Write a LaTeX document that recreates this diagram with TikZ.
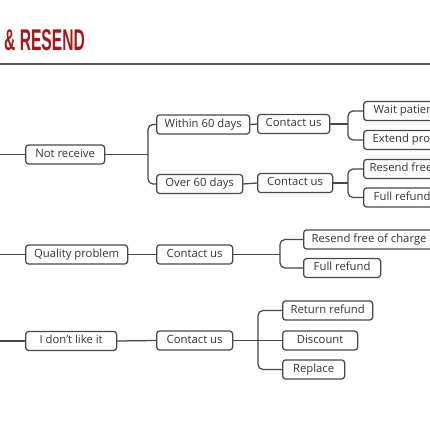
\documentclass[tikz,border=0pt]{standalone}
\usepackage{fontspec}
\setmainfont{Open Sans}
\newfontfamily\titlefont{Liberation Sans}
\definecolor{boxline}{HTML}{474747}
\definecolor{textc}{HTML}{333333}
\definecolor{titlered}{HTML}{A3191C}
\definecolor{rulegray}{HTML}{555555}
\begin{document}
\begin{tikzpicture}[x=1pt,y=-1pt,
  box/.style={draw=boxline, line width=1.25pt, rounded corners=3pt, minimum height=19pt,
    inner xsep=8pt, inner ysep=0pt, text height=8.2pt, text depth=2.4pt, text=textc,
    font=\fontsize{11.3}{13}\selectfont, anchor=west},
  conn/.style={draw=boxline, line width=1.25pt, rounded corners=5pt}]
\useasboundingbox (0,0) rectangle (430,430);
\clip (0,0) rectangle (430,430);

% title
\node[anchor=north west, inner sep=0pt, text=titlered] (title) at (4,29)
  {\titlefont\bfseries\fontsize{30}{30}\selectfont\scalebox{0.52}[1]{\& RESEND}};
\coordinate (r1) at (0,64);
\coordinate (r2) at (430,64);
\draw[line width=1.8pt, draw=rulegray] (r1) -- (r2);

% group 1
\node[box, minimum width=79pt] (nr) at (25,154.5) {Not receive};
\node[box, minimum width=91pt] (w60) at (156,124.5) {Within 60 days};
\node[box, minimum width=86pt] (o60) at (156,184) {Over 60 days};
\node[box, minimum width=72pt] (cu1) at (257,124) {Contact us};
\node[box, minimum width=75pt] (cu2) at (257,183) {Contact us};
\node[box, inner xsep=10pt] (wait) at (363,111) {Wait patiently};
\node[box, inner xsep=9pt] (ext) at (363,140) {Extend protection};
\node[box, inner xsep=6pt] (rs1) at (363,169) {Resend free of charge};
\node[box, minimum width=77pt] (fr1) at (363,197.5) {Full refund};

% group 2
\node[box, minimum width=102pt] (qp) at (25,254.5) {Quality problem};
\node[box, minimum width=76pt] (cu3) at (156,254.5) {Contact us};
\node[box, minimum width=125pt] (rs2) at (303,239.5) {Resend free of charge};
\node[box, minimum width=77pt] (fr2) at (303,268) {Full refund};

% group 3
\node[box, minimum width=91pt] (idl) at (25,341) {I don't like it};
\node[box, minimum width=76pt] (cu4) at (156,340.5) {Contact us};
\node[box, minimum width=90pt] (ret) at (282,310.5) {Return refund};
\node[box, minimum width=75pt] (disc) at (282,340.5) {Discount};
\node[box, minimum width=62pt] (repl) at (282,369.5) {Replace};

% left stubs
\coordinate (l1) at (0,154.5);
\coordinate (l2) at (0,254.5);
\coordinate (l3) at (0,341);
\draw[conn] (l1) -- (nr.west);
\draw[conn] (l2) -- (qp.west);
\draw[conn] (l3) -- (idl.west);

% junctions
\coordinate (j1) at (148,154.5);
\coordinate (j2) at (348,124);
\coordinate (j3) at (348,183);
\coordinate (j4) at (280,254.5);
\coordinate (j5) at (258,340.5);

\draw[conn] (nr.east) -- (j1);
\draw[conn] (w60.west) -| (j1) |- (o60.west);
\draw[conn] (w60.east) -- (cu1.west);
\draw[conn] (o60.east) -- (cu2.west);
\draw[conn] (cu1.east) -- (j2);
\draw[conn] (wait.west) -| (j2) |- (ext.west);
\draw[conn] (cu2.east) -- (j3);
\draw[conn] (rs1.west) -| (j3) |- (fr1.west);

\draw[conn] (qp.east) -- (cu3.west);
\draw[conn] (cu3.east) -- (j4);
\draw[conn] (rs2.west) -| (j4) |- (fr2.west);

\draw[conn] (idl.east) -- (cu4.west);
\draw[conn] (cu4.east) -- (disc.west);
\draw[conn] (ret.west) -| (j5) |- (repl.west);
\end{tikzpicture}
\end{document}
